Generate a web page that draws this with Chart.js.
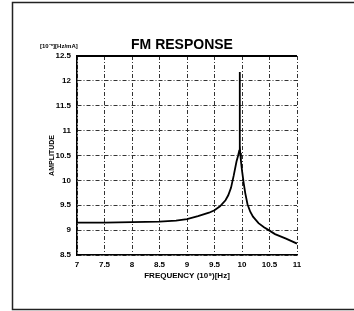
<!DOCTYPE html>
<html>
<head>
<meta charset="utf-8">
<script src="https://cdn.jsdelivr.net/npm/chart.js@4/dist/chart.umd.min.js"></script>
<style>
  html, body { margin: 0; padding: 0; background: #fff; }
  #wrap { width: 354px; height: 311px; }
</style>
</head>
<body>
<div id="wrap"><canvas id="c" width="354" height="311"></canvas></div>
<script>
// frequency (x 10^9 Hz) and amplitude
var freq = [7, 7.5, 8, 8.5, 8.8, 9, 9.2, 9.4, 9.5, 9.6, 9.7, 9.75, 9.8, 9.85, 9.9, 9.93, 9.95, 9.957, 9.96, 9.963, 9.968, 9.98, 10.0, 10.03, 10.06, 10.1, 10.15, 10.2, 10.3, 10.4, 10.5, 10.6, 10.8, 11];
var ampl = [9.15, 9.15, 9.16, 9.17, 9.19, 9.22, 9.28, 9.35, 9.4, 9.48, 9.6, 9.7, 9.85, 10.1, 10.38, 10.5, 10.6, 10.65, 12.18, 10.7, 10.55, 10.4, 10.2, 9.95, 9.74, 9.52, 9.37, 9.27, 9.14, 9.06, 8.99, 8.92, 8.83, 8.73];
var xTicks = [7, 7.5, 8, 8.5, 9, 9.5, 10, 10.5, 11];
var yTicks = [8.5, 9, 9.5, 10, 10.5, 11, 11.5, 12, 12.5];

var title = 'FM RESPONSE';
var unitLabel = '[10\u207B\u207F][Hz/mA]';
var xTitle = 'FREQUENCY (10\u2079)[Hz]';
var yTitle = 'AMPLITUDE';

var pts = freq.map(function (f, i) { return { x: f, y: ampl[i] }; });
var FONT = 'Liberation Sans Narrow, Liberation Sans, Arial, sans-serif';
var dashDot = [4, 2, 1, 2];

var decor = {
    id: 'decor',
    beforeDraw: function (chart) {
        var ctx = chart.ctx;
        ctx.save();
        ctx.fillStyle = '#fff';
        ctx.fillRect(0, 0, chart.width, chart.height);
        // page frame: left, top and bottom edges
        ctx.strokeStyle = '#222';
        ctx.lineWidth = 1.5;
        ctx.beginPath();
        ctx.moveTo(354, 2.5);
        ctx.lineTo(12.5, 2.5);
        ctx.lineTo(12.5, 309.5);
        ctx.lineTo(354, 309.5);
        ctx.stroke();
        ctx.restore();
    },
    afterDraw: function (chart) {
        var ctx = chart.ctx, a = chart.chartArea;
        ctx.save();
        ctx.strokeStyle = '#000';
        ctx.lineWidth = 2;
        ctx.beginPath();
        ctx.moveTo(a.left, a.top);
        ctx.lineTo(a.right, a.top);
        ctx.stroke();
        ctx.fillStyle = '#000';
        ctx.textBaseline = 'middle';
        ctx.textAlign = 'center';
        ctx.font = 'bold 14px ' + FONT;
        ctx.fillText(title, 182, 45);
        ctx.textAlign = 'left';
        ctx.font = 'bold 6px ' + FONT;
        ctx.fillText(unitLabel, 40, 46);
        ctx.restore();
    }
};

new Chart(document.getElementById('c'), {
    type: 'line',
    data: {
        datasets: [{
            data: pts,
            borderColor: '#000',
            borderWidth: 1.8,
            pointRadius: 0,
            tension: 0,
            fill: false
        }]
    },
    options: {
        responsive: false,
        animation: false,
        layout: { padding: { left: 46, top: 56, right: 57, bottom: 28 } },
        plugins: { legend: { display: false }, tooltip: { enabled: false } },
        scales: {
            x: {
                type: 'linear',
                min: 7, max: 11,
                afterBuildTicks: function (s) { s.ticks = xTicks.map(function (v) { return { value: v }; }); },
                afterFit: function (s) { s.height = 28; },
                grid: { color: '#333', lineWidth: 1, drawTicks: false },
                border: { display: true, color: '#000', width: 1.5, dash: dashDot },
                ticks: { color: '#000', padding: 5, font: { family: FONT, size: 8, weight: 'bold' }, maxRotation: 0, autoSkip: false,
                         callback: function (v) { return String(v); } },
                title: { display: true, text: xTitle, color: '#000', padding: { top: 1, bottom: 2 }, font: { family: FONT, size: 8, weight: 'bold' } }
            },
            y: {
                min: 8.5, max: 12.5,
                afterBuildTicks: function (s) { s.ticks = yTicks.map(function (v) { return { value: v }; }); },
                afterFit: function (s) { s.width = 31; },
                grid: { color: '#333', lineWidth: 1, drawTicks: false },
                border: { display: true, color: '#000', width: 1.5, dash: dashDot },
                ticks: { color: '#000', padding: 6, font: { family: FONT, size: 8, weight: 'bold' }, autoSkip: false,
                         callback: function (v) { return String(v); } },
                title: { display: true, text: yTitle, color: '#000', padding: { top: 2, bottom: 0 }, font: { family: FONT, size: 7, weight: 'bold' } }
            }
        }
    },
    plugins: [decor]
});
</script>
</body>
</html>
